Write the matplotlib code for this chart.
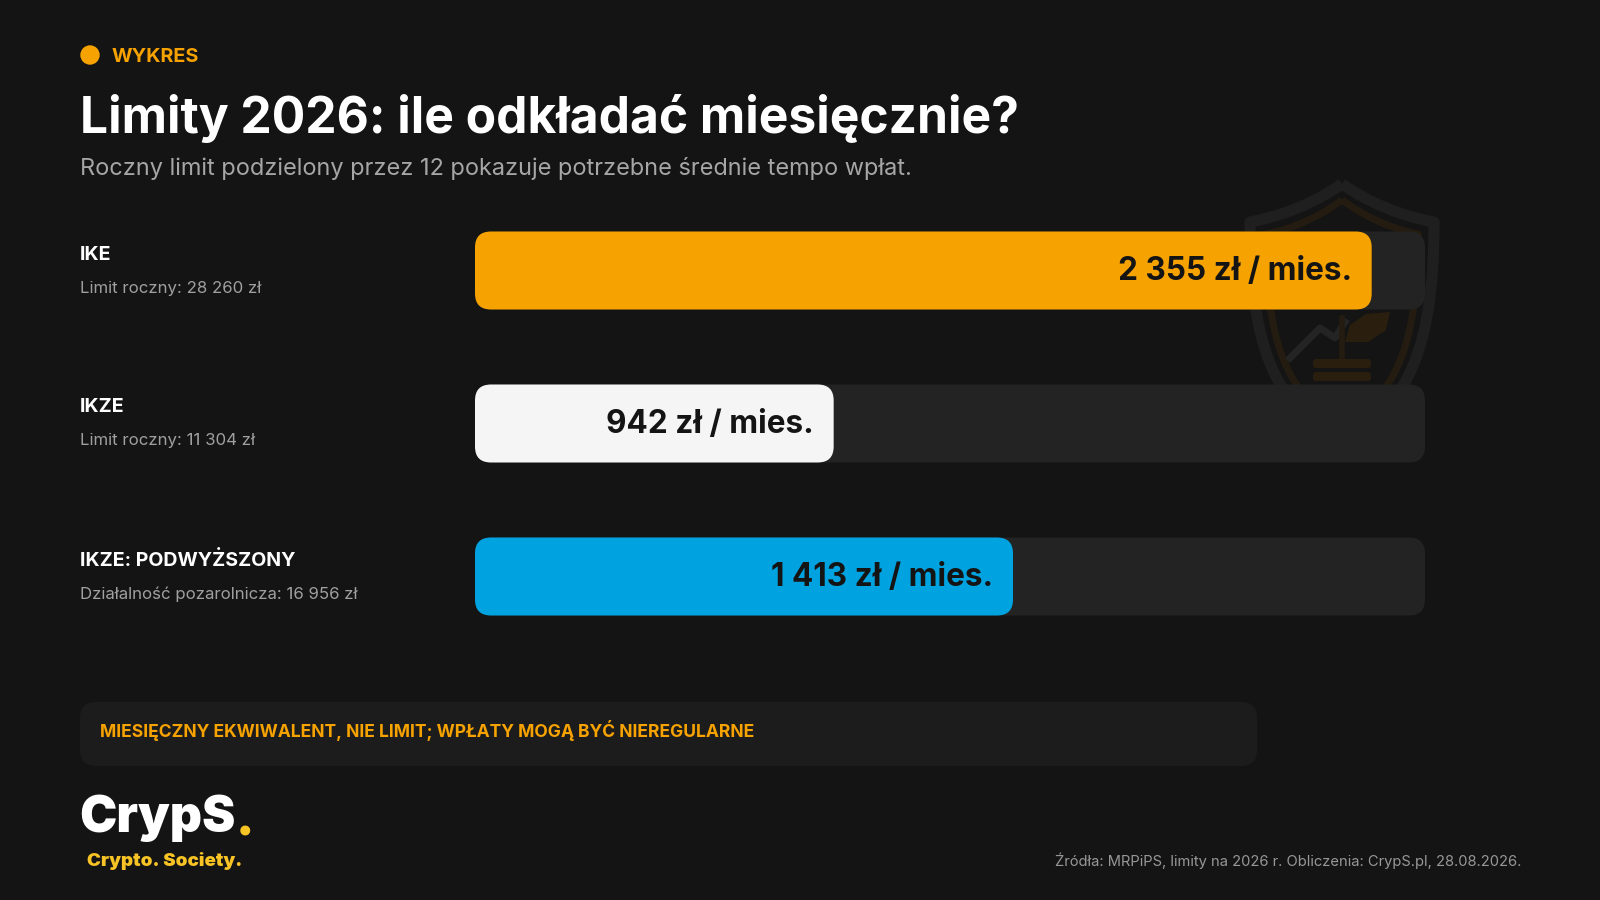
import matplotlib
matplotlib.use('Agg')
import matplotlib.pyplot as plt
from matplotlib.patches import FancyBboxPatch, Circle, PathPatch, Polygon
from matplotlib.path import Path

plt.rcParams['font.family'] = ['Inter', 'DejaVu Sans']

names = ['IKE', 'IKZE', 'IKZE: PODWYŻSZONY']
limit_labels = ['Limit roczny: 28 260 zł', 'Limit roczny: 11 304 zł', 'Działalność pozarolnicza: 16 956 zł']
monthly = [2355, 942, 1413]
scale_max = 2495
bar_colors = ['#F6A200', '#F5F5F5', '#00A3E0']

BG = '#141414'
TRACK = '#232323'
ORANGE = '#F6A200'
W, H = 1600, 900


def rounded(ax, x, y, w, h, r, color, aspect=1.0, zorder=2):
    box = FancyBboxPatch((x, y), w, h, boxstyle=f'round,pad=0,rounding_size={r}',
                         mutation_aspect=aspect, fc=color, ec='none', zorder=zorder)
    ax.add_patch(box)


def shield_path(cx, top, half, shoulder, bottom):
    # top point, curved shoulders, sides running in to the bottom point
    verts = [(cx, top),
             (cx - half * 0.45, top + (shoulder - top) * 0.75), (cx - half, shoulder),
             (cx - half, shoulder + (bottom - shoulder) * 0.55), (cx - half * 0.75, bottom - (bottom - shoulder) * 0.15), (cx, bottom),
             (cx + half * 0.75, bottom - (bottom - shoulder) * 0.15), (cx + half, shoulder + (bottom - shoulder) * 0.55), (cx + half, shoulder),
             (cx + half * 0.45, top + (shoulder - top) * 0.75), (cx, top)]
    codes = [Path.MOVETO, Path.CURVE3, Path.CURVE3, Path.CURVE4, Path.CURVE4, Path.CURVE4,
             Path.CURVE4, Path.CURVE4, Path.CURVE4, Path.CURVE3, Path.CURVE3]
    return Path(verts, codes)


fig = plt.figure(figsize=(16, 9), dpi=100, facecolor=BG)

# page layer, in pixels
page = fig.add_axes([0, 0, 1, 1], zorder=1)
page.set_xlim(0, W)
page.set_ylim(H, 0)
page.axis('off')

# watermark shield behind the first row
page.add_patch(PathPatch(shield_path(1342, 184, 92, 222, 440), fc='none', ec='#1F1F1F', lw=8, joinstyle='round'))
page.add_patch(PathPatch(shield_path(1342, 200, 76, 234, 424), fc='none', ec='#241C10', lw=5, joinstyle='round'))
page.plot([1290, 1320, 1335, 1345], [358, 328, 338, 322], color='#242424', lw=5)
page.plot([1342, 1342], [318, 356], color='#241C10', lw=4)
page.add_patch(Polygon([(1345, 342), (1350, 325), (1366, 314), (1390, 312), (1386, 330), (1368, 342)], fc='#2A1F0E', ec='none'))
rounded(page, 1313, 359, 58, 9, 3, '#2A1F0E')
rounded(page, 1313, 372, 58, 9, 3, '#2A1F0E')

# header
page.add_patch(Circle((90, 55), 9.7, fc=ORANGE, ec='none'))
page.text(112, 62, 'WYKRES', color=ORANGE, fontsize=14.3, fontweight='bold')
page.text(80, 133, 'Limity 2026: ile odkładać miesięcznie?', color='white', fontsize=35.8, fontweight='bold')
page.text(80, 175, 'Roczny limit podzielony przez 12 pokazuje potrzebne średnie tempo wpłat.',
          color='#A6A6A6', fontsize=16.92)

# bars
ax = fig.add_axes([475 / W, 0, 950 / W, 1], zorder=2)
ax.set_xlim(0, scale_max)
ax.set_ylim(H, 0)
ax.axis('off')
px_per_unit = 950 / scale_max
bar_h = 78
r_units = 16 / px_per_unit
for i, (name, sub, val, col) in enumerate(zip(names, limit_labels, monthly, bar_colors)):
    cy = 270.5 + i * 153
    rounded(ax, 0, cy - bar_h / 2, scale_max, bar_h, r_units, TRACK, px_per_unit, 2)
    rounded(ax, 0, cy - bar_h / 2, val, bar_h, r_units, col, px_per_unit, 3)
    label = f'{val:,}'.replace(',', ' ') + ' zł / mies.'
    ax.annotate(label, xy=(val, cy + 9.5), xytext=(-19.5, 0), textcoords='offset pixels',
                ha='right', va='baseline', color='#141414', fontsize=22.7, fontweight='bold', zorder=4)
    page.text(80, cy - 11, name, color='white', fontsize=14.1, fontweight='bold')
    page.text(80, cy + 22, sub, color='#A0A0A0', fontsize=12.1)

# note box
rounded(page, 80, 702, 1177, 64, 16, '#1C1C1C')
page.text(100, 737, 'MIESIĘCZNY EKWIWALENT, NIE LIMIT; WPŁATY MOGĄ BYĆ NIEREGULARNE',
          color=ORANGE, fontsize=12.6, fontweight='bold')

# logo and source
page.text(79, 832, 'CrypS', color='white', fontsize=36, fontweight='black')
page.text(236, 835, '.', color='#F7C325', fontsize=36, fontweight='black')
page.text(87, 866, 'Crypto. Society.', color='#F7C325', fontsize=13.5, fontweight='black')
page.text(1521, 866, 'Źródła: MRPiPS, limity na 2026 r. Obliczenia: CrypS.pl, 28.08.2026.',
          color='#979797', fontsize=10.6, ha='right')

fig.savefig('out.png', dpi=100, facecolor=BG)
